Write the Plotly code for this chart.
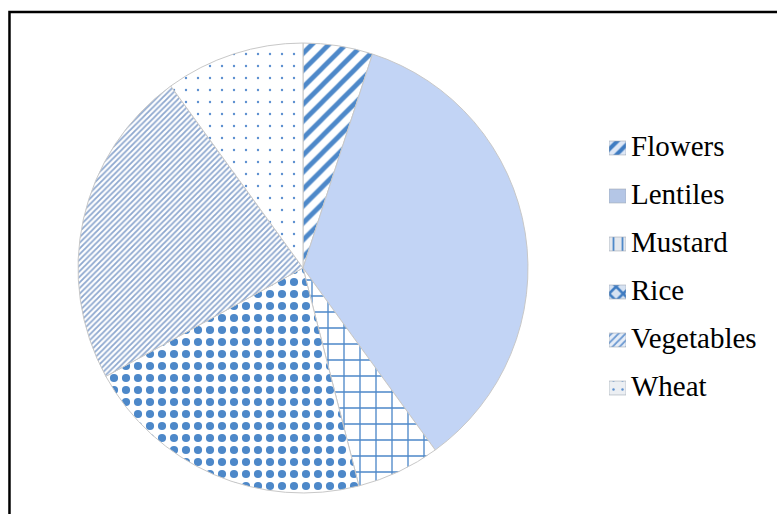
import plotly.graph_objects as go

# Crop share by category (percent)
crops = ["Flowers", "Lentiles", "Mustard", "Rice", "Vegetables", "Wheat"]
shares = [5, 35, 6, 21, 23, 10]

# Fill styling per slice
fill_colors = ["white", "#c2d4f5", "white", "white", "white", "white"]
pattern_shapes = ["/", "", "+", ".", "/", "."]
pattern_fg = ["#4d88c9", "#4d88c9", "#4d88c9", "#4d88c9", "#8ea8cf", "#5b8fd0"]
pattern_size = [12, 8, 16, 12, 4, 12]
pattern_solidity = [0.4, 0.3, 0.16, 0.36, 0.45, 0.03]

# Legend swatch styling
swatch_fill = ["#dfe8f6", "#b4c6e6", "#e4e8ee", "#d6e2f2", "#e6edf7", "#eceff3"]
swatch_shapes = ["/", "", "|", "x", "/", "."]
swatch_fg = ["#3f7cc2", "#b4c6e6", "#4d88c9", "#3f7cc2", "#6d9ad2", "#5b8fd0"]
swatch_size = [9, 8, 9, 10, 5, 9]
swatch_solidity = [0.45, 0.3, 0.2, 0.45, 0.35, 0.06]

legend_font = dict(family="Times New Roman, Liberation Serif, serif", size=29, color="black")

fig = go.Figure()

fig.add_trace(
    go.Pie(
        labels=crops,
        values=shares,
        sort=False,
        direction="clockwise",
        rotation=0,
        textinfo="none",
        hoverinfo="label+percent",
        showlegend=False,
        marker=dict(
            colors=fill_colors,
            line=dict(color="#c8c8c8", width=1),
            pattern=dict(
                shape=pattern_shapes,
                fgcolor=pattern_fg,
                bgcolor=fill_colors,
                size=pattern_size,
                solidity=pattern_solidity,
                fillmode="replace",
            ),
        ),
        domain=dict(x=[0.1004, 0.6795], y=[0.0409, 0.9163]),
    )
)

# Legend swatches: one small patterned bar per crop in a narrow side axis
for i, name in enumerate(crops):
    fig.add_trace(
        go.Bar(
            orientation="h",
            y=[name],
            x=[1],
            width=0.29,
            showlegend=False,
            hoverinfo="skip",
            marker=dict(
                color=swatch_fill[i],
                line=dict(color="#a0a8b4", width=0.6),
                pattern=dict(
                    shape=swatch_shapes[i],
                    fgcolor=swatch_fg[i],
                    bgcolor=swatch_fill[i],
                    size=swatch_size[i],
                    solidity=swatch_solidity[i],
                    fillmode="replace",
                ),
            ),
        )
    )

annotations = [
    dict(
        text=name,
        xref="paper",
        yref="y",
        x=0.810,
        y=name,
        xanchor="left",
        yanchor="middle",
        yshift=2,
        showarrow=False,
        font=legend_font,
    )
    for name in crops
]

fig.update_layout(
    width=777,
    height=514,
    margin=dict(l=0, r=0, t=0, b=0),
    paper_bgcolor="white",
    plot_bgcolor="rgba(0,0,0,0)",
    showlegend=False,
    barmode="overlay",
    xaxis=dict(domain=[0.7838, 0.8057], range=[0, 1], visible=False, fixedrange=True),
    yaxis=dict(
        domain=[0.1984, 0.7588],
        categoryorder="array",
        categoryarray=crops,
        autorange="reversed",
        visible=False,
        fixedrange=True,
    ),
    annotations=annotations,
    shapes=[
        dict(
            type="rect",
            xref="paper",
            yref="paper",
            x0=0.0122,
            x1=1.02,
            y0=-0.02,
            y1=0.9765,
            line=dict(color="black", width=2.5),
            fillcolor="rgba(0,0,0,0)",
        )
    ],
)

fig.write_html("out.html")
